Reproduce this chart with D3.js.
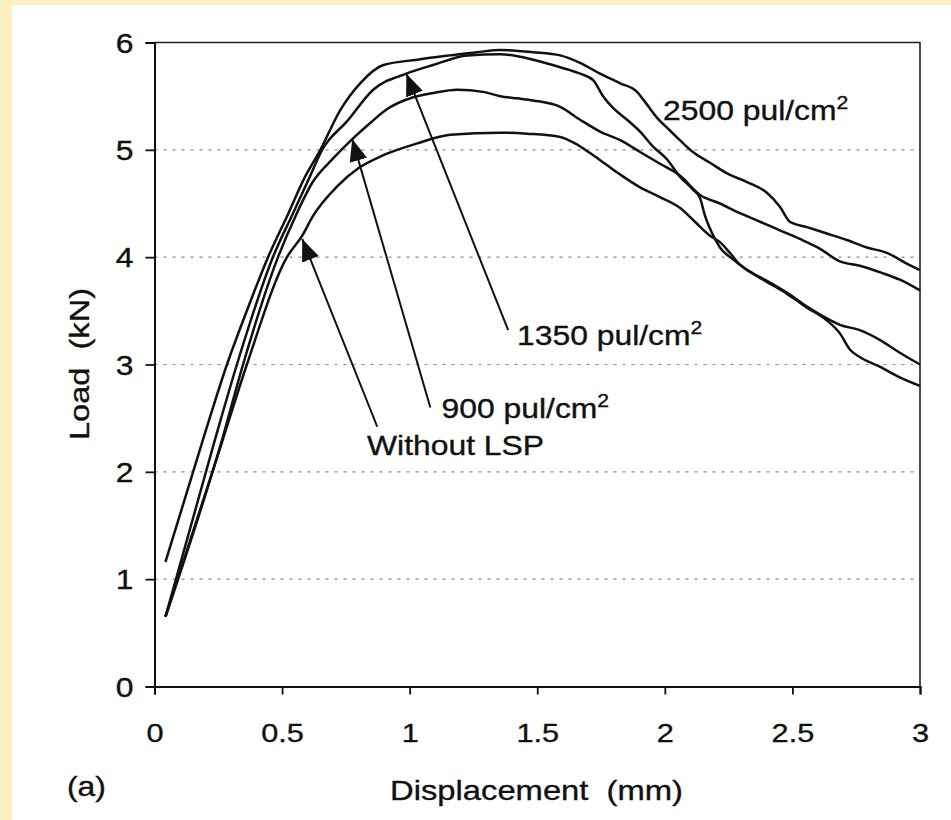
<!DOCTYPE html>
<html>
<head>
<meta charset="utf-8">
<script src="https://cdn.jsdelivr.net/npm/d3@7"></script>
<style>
  body { margin: 0; background: #fdefc3; }
  svg text { font-family: "Liberation Sans", Arial, sans-serif; fill: #111; stroke: #111; stroke-width: 0.35px; white-space: pre; }
</style>
</head>
<body>
<svg id="chart"></svg>
<script>
// load-displacement curves [displacement mm, load kN]
const withoutLSP = [[0.043,0.65],[0.265,2.28],[0.362,3.00],[0.519,4.00],[0.579,4.20],[0.620,4.38],[0.716,4.66],[0.800,4.83],[0.897,4.95],[1.030,5.06],[1.159,5.14],[1.355,5.16],[1.460,5.15],[1.590,5.12],[1.648,5.06],[1.707,4.97],[1.766,4.87],[1.825,4.77],[1.903,4.65],[1.981,4.56],[2.059,4.46],[2.118,4.33],[2.177,4.20],[2.216,4.14],[2.255,4.04],[2.294,3.93],[2.345,3.85],[2.400,3.78],[2.478,3.67],[2.557,3.54],[2.635,3.43],[2.686,3.37],[2.764,3.32],[2.842,3.23],[2.921,3.11],[3.0,3.00]];

const lsp900 = [[0.043,0.65],[0.265,2.30],[0.347,3.00],[0.484,4.00],[0.558,4.41],[0.620,4.70],[0.700,4.92],[0.775,5.10],[0.850,5.26],[0.912,5.38],[1.014,5.49],[1.092,5.53],[1.186,5.56],[1.288,5.54],[1.355,5.50],[1.421,5.48],[1.484,5.46],[1.590,5.40],[1.668,5.28],[1.746,5.17],[1.825,5.09],[1.903,4.98],[1.981,4.87],[2.059,4.76],[2.138,4.58],[2.216,4.50],[2.294,4.41],[2.373,4.33],[2.451,4.25],[2.529,4.17],[2.607,4.08],[2.686,3.96],[2.764,3.92],[2.842,3.86],[2.921,3.79],[3.0,3.69]];

const lsp1350 = [[0.043,0.65],[0.237,2.30],[0.323,3.00],[0.464,4.00],[0.543,4.41],[0.603,4.72],[0.657,5.00],[0.756,5.27],[0.857,5.56],[0.987,5.71],[1.092,5.79],[1.226,5.88],[1.355,5.89],[1.484,5.84],[1.590,5.77],[1.668,5.71],[1.719,5.65],[1.758,5.50],[1.797,5.39],[1.852,5.28],[1.903,5.17],[1.954,5.03],[2.009,4.91],[2.059,4.75],[2.110,4.63],[2.138,4.55],[2.157,4.39],[2.184,4.23],[2.216,4.09],[2.267,3.98],[2.322,3.88],[2.400,3.77],[2.478,3.66],[2.557,3.53],[2.635,3.41],[2.686,3.29],[2.725,3.14],[2.764,3.07],[2.842,2.98],[2.921,2.88],[3.0,2.80]];

const lsp2500 = [[0.043,1.16],[0.190,2.30],[0.284,3.00],[0.365,3.52],[0.445,4.00],[0.525,4.41],[0.584,4.72],[0.650,5.00],[0.728,5.37],[0.806,5.62],[0.897,5.79],[1.030,5.84],[1.159,5.88],[1.265,5.91],[1.355,5.93],[1.484,5.91],[1.590,5.88],[1.668,5.81],[1.746,5.71],[1.825,5.62],[1.891,5.54],[1.915,5.47],[1.969,5.30],[2.020,5.18],[2.059,5.09],[2.110,4.98],[2.177,4.88],[2.244,4.78],[2.322,4.70],[2.400,4.60],[2.451,4.47],[2.490,4.33],[2.557,4.28],[2.635,4.22],[2.713,4.16],[2.792,4.09],[2.870,4.04],[2.948,3.94],[3.0,3.88]];

const xTicks = [0, 0.5, 1, 1.5, 2, 2.5, 3];
const yTicks = [0, 1, 2, 3, 4, 5, 6];

// annotation labels: [x, y] of text start (data units), main text, superscript
const labels = [
  { at: [1.993, 5.28], text: "2500 pul/cm", sup: "2" },
  { at: [1.421, 3.18], text: "1350 pul/cm", sup: "2" },
  { at: [1.125, 2.50], text: "900 pul/cm", sup: "2" },
  { at: [0.833, 2.16], text: "Without LSP", sup: "" }
];
// arrows: tail -> tip (data units)
const arrows = [
  [[1.386, 3.32], [0.987, 5.71]],
  [[1.081, 2.60], [0.775, 5.10]],
  [[0.873, 2.42], [0.579, 4.17]]
];

const W = 951, H = 820;
const svg = d3.select("#chart").attr("width", W).attr("height", H);
const stretch = 1.18;

svg.append("rect").attr("x", 12).attr("y", 5).attr("width", W - 12).attr("height", H - 5).attr("fill", "#fff");

const x = d3.scaleLinear().domain([0, 3]).range([154.5, 920]);
const y = d3.scaleLinear().domain([0, 6]).range([686.5, 42.5]);

// dashed gridlines
svg.append("g").selectAll("line")
  .data(yTicks.filter(d => d > 0 && d < 6))
  .enter().append("line")
  .attr("x1", x(0)).attr("x2", x(3))
  .attr("y1", d => y(d)).attr("y2", d => y(d))
  .attr("stroke", "#8a8a8a").attr("stroke-width", 1.2)
  .attr("stroke-dasharray", "3,6");

// frame top / right
svg.append("path")
  .attr("d", `M${x(0)},${y(6)}H${x(3)}V${y(0)}`)
  .attr("fill", "none").attr("stroke", "#222").attr("stroke-width", 1.6);

const xAxis = svg.append("g")
  .attr("transform", `translate(0,${y(0)})`)
  .call(d3.axisBottom(x).tickValues(xTicks).tickFormat(d3.format("")).tickSize(8).tickPadding(4));
xAxis.selectAll("text")
  .attr("font-size", 26).attr("dy", null).attr("y", 56)
  .attr("transform", `scale(${stretch},1)`);

const yAxis = svg.append("g")
  .attr("transform", `translate(${x(0)},0)`)
  .call(d3.axisLeft(y).tickValues(yTicks).tickFormat(d3.format("d")).tickSize(9));
yAxis.selectAll("text")
  .attr("font-size", 27).attr("x", -21 / stretch).attr("dy", "0.36em")
  .attr("transform", `scale(${stretch},1)`);

[xAxis, yAxis].forEach(a => {
  a.select(".domain").attr("stroke", "#111").attr("stroke-width", 2);
  a.selectAll(".tick line").attr("stroke", "#111").attr("stroke-width", 1.8);
  a.selectAll("text").attr("fill", "#111").attr("font-family", "Liberation Sans, Arial, sans-serif");
});

// curves
const line = d3.line().x(d => x(d[0])).y(d => y(d[1])).curve(d3.curveMonotoneX);
svg.append("g").selectAll("path")
  .data([withoutLSP, lsp900, lsp1350, lsp2500])
  .enter().append("path")
  .attr("d", line)
  .attr("fill", "none").attr("stroke", "#111").attr("stroke-width", 2.5)
  .attr("stroke-linejoin", "round");

// arrows
svg.append("defs").append("marker")
  .attr("id", "head").attr("markerUnits", "userSpaceOnUse")
  .attr("viewBox", "0 -10 24 20").attr("markerWidth", 24).attr("markerHeight", 20)
  .attr("refX", 22).attr("refY", 0).attr("orient", "auto")
  .append("path").attr("d", "M0,-9L22,0L0,9Z").attr("fill", "#111");

svg.append("g").selectAll("line")
  .data(arrows)
  .enter().append("line")
  .attr("x1", d => x(d[0][0])).attr("y1", d => y(d[0][1]))
  .attr("x2", d => x(d[1][0])).attr("y2", d => y(d[1][1]))
  .attr("stroke", "#111").attr("stroke-width", 2)
  .attr("marker-end", "url(#head)");

// curve labels
const lab = svg.append("g").selectAll("text")
  .data(labels)
  .enter().append("text")
  .attr("transform", d => `translate(${x(d.at[0])},${y(d.at[1])}) scale(${stretch},1)`)
  .attr("font-size", 27);
lab.append("tspan").text(d => d.text);
lab.append("tspan").attr("font-size", 18).attr("dy", -11).text(d => d.sup);

// axis titles
svg.append("text")
  .attr("transform", "translate(390,800)")
  .attr("font-size", 28)
  .attr("textLength", 293).attr("lengthAdjust", "spacingAndGlyphs")
  .text("Displacement  (mm)");

svg.append("text")
  .attr("transform", `translate(89,364) rotate(-90)`)
  .attr("text-anchor", "middle").attr("font-size", 28)
  .attr("textLength", 152).attr("lengthAdjust", "spacingAndGlyphs")
  .text("Load  (kN)");

svg.append("text")
  .attr("transform", `translate(67,796) scale(${stretch},1)`)
  .attr("font-size", 27).text("(a)");
</script>
</body>
</html>
